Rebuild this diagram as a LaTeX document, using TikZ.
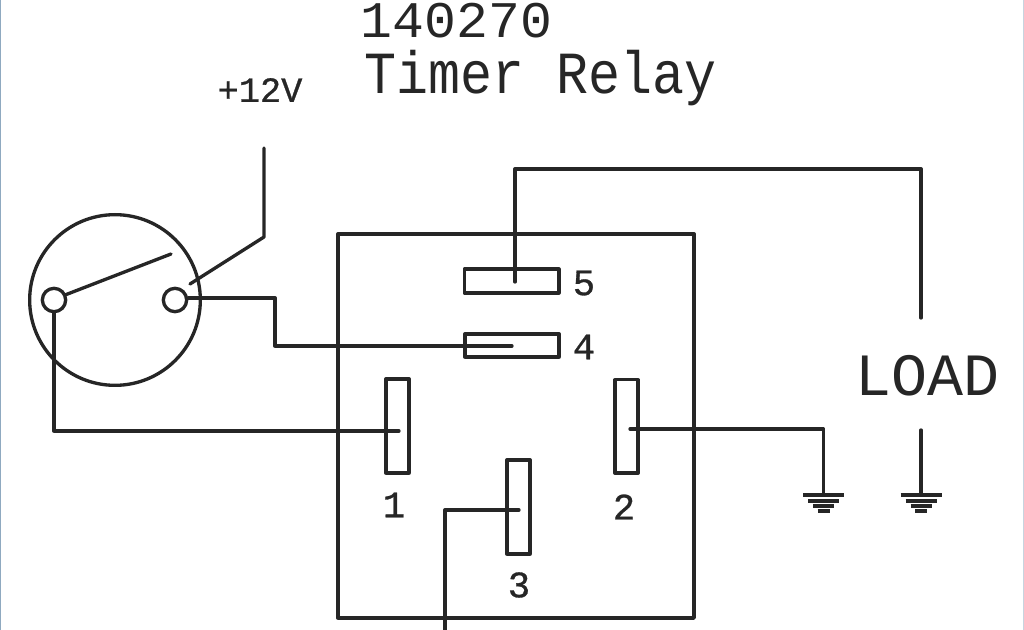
\documentclass[tikz,border=0pt]{standalone}
\usepackage{fontspec}
\usepackage{graphicx}
\setmainfont{Liberation Mono}
\newfontfamily\heavier[FakeBold=0.8]{Liberation Mono}
\definecolor{ink}{HTML}{262626}
\definecolor{edge}{HTML}{8FA9C0}
\tikzset{
  wire/.style={draw=ink,line width=2.5pt,line join=round,line cap=round},
  body/.style={wire,rectangle,minimum width=0pt,minimum height=0pt,inner sep=0pt},
  label/.style={text=ink,inner sep=0pt,anchor=center},
  gnd/.style={draw=ink,line width=2.6pt}
}
\begin{document}
\begin{tikzpicture}[x=0.75pt,y=-0.75pt]
\useasboundingbox (0,0) rectangle (1024,630);
\draw[edge,line width=1.2pt] (0.5,0) -- (0.5,630);
\draw[edge!50,line width=1pt] (1023.5,0) -- (1023.5,630);
% relay body
\node[wire,rectangle,minimum width=267pt,minimum height=288pt,inner sep=0pt] (relay) at (516,426) {};
% terminals
\node[body,minimum width=71pt,minimum height=18pt] (t5) at (511.5,281) {};
\node[body,minimum width=70.5pt,minimum height=17.25pt] (t4) at (512,345.5) {};
\node[body,minimum width=17.25pt,minimum height=70.5pt] (t1) at (397.5,426) {};
\node[body,minimum width=17.25pt,minimum height=70pt] (t2) at (626.5,426.5) {};
\node[body,minimum width=17.25pt,minimum height=70.5pt] (t3) at (518.5,507) {};
% switch
\node[wire,circle,minimum size=128pt,inner sep=0pt] (sw) at (115,300) {};
\node[wire,circle,minimum size=17.5pt,inner sep=0pt] (pl) at (54,300) {};
\node[wire,circle,minimum size=17.5pt,inner sep=0pt] (pr) at (175,300) {};
% internal end points
\coordinate (armend) at (171,254);
\coordinate (vtop) at (264,148);
\coordinate (vend) at (190,284);
\coordinate (e5) at (515,282);
\coordinate (e4) at (512,346);
\coordinate (e1) at (399,431);
\coordinate (e2) at (630,429);
\coordinate (e3) at (519,510);
\coordinate (e3b) at (445,630);
\coordinate (loadtop) at (921,318);
\coordinate (loadbot) at (921,430);
\coordinate (g1) at (823.5,495);
\coordinate (g2) at (921,495);
% wires
\draw[wire] (pl) ++(11,-5) -- (armend);
\draw[wire] (vtop) -- (264,237) -- (vend);
\draw[wire] (pr.east) ++(0,-2) -- (275,298) -- (275,346) -- (e4);
\draw[wire] (e5) -- (515,169) -- (921,169) -- (loadtop);
\draw[wire] (pl.south) -- (54,431) -- (e1);
\draw[wire] (e2) -- (823.5,429) -- (g1);
\draw[wire] (loadbot) -- (g2);
\draw[wire] (e3) -- (445,510) -- (e3b);
% grounds
\foreach \g in {g1,g2}{
  \draw[gnd] ([shift={(-20.5,0)}]\g) -- ([shift={(20.5,0)}]\g);
  \draw[gnd] ([shift={(-15.5,6)}]\g) -- ([shift={(15.5,6)}]\g);
  \draw[gnd] ([shift={(-10.5,11)}]\g) -- ([shift={(10.5,11)}]\g);
  \draw[gnd] ([shift={(-6,16)}]\g) -- ([shift={(6,16)}]\g);
}
% labels
\node[label] (ttl1) at (456.5,21) {\scalebox{1.035}[1]{\fontsize{38.5}{38.5}\selectfont 140270}};
\node[label] (ttl2) at (541,78) {\scalebox{1}[1.12]{\fontsize{40}{40}\selectfont Timer Relay}};
\node[label] (v12) at (260,90) {\heavier\fontsize{26.5}{26.5}\selectfont +12V};
\node[label] (load) at (927,376) {\fontsize{45}{45}\selectfont LOAD};
\node[label] (l5) at (584,283) {\heavier\fontsize{28}{28}\selectfont 5};
\node[label] (l4) at (584,347) {\heavier\fontsize{28}{28}\selectfont 4};
\node[label] (l1) at (394,505) {\heavier\fontsize{28}{28}\selectfont 1};
\node[label] (l2) at (624,507) {\heavier\fontsize{28}{28}\selectfont 2};
\node[label] (l3) at (519,585) {\heavier\fontsize{28}{28}\selectfont 3};
\end{tikzpicture}
\end{document}
